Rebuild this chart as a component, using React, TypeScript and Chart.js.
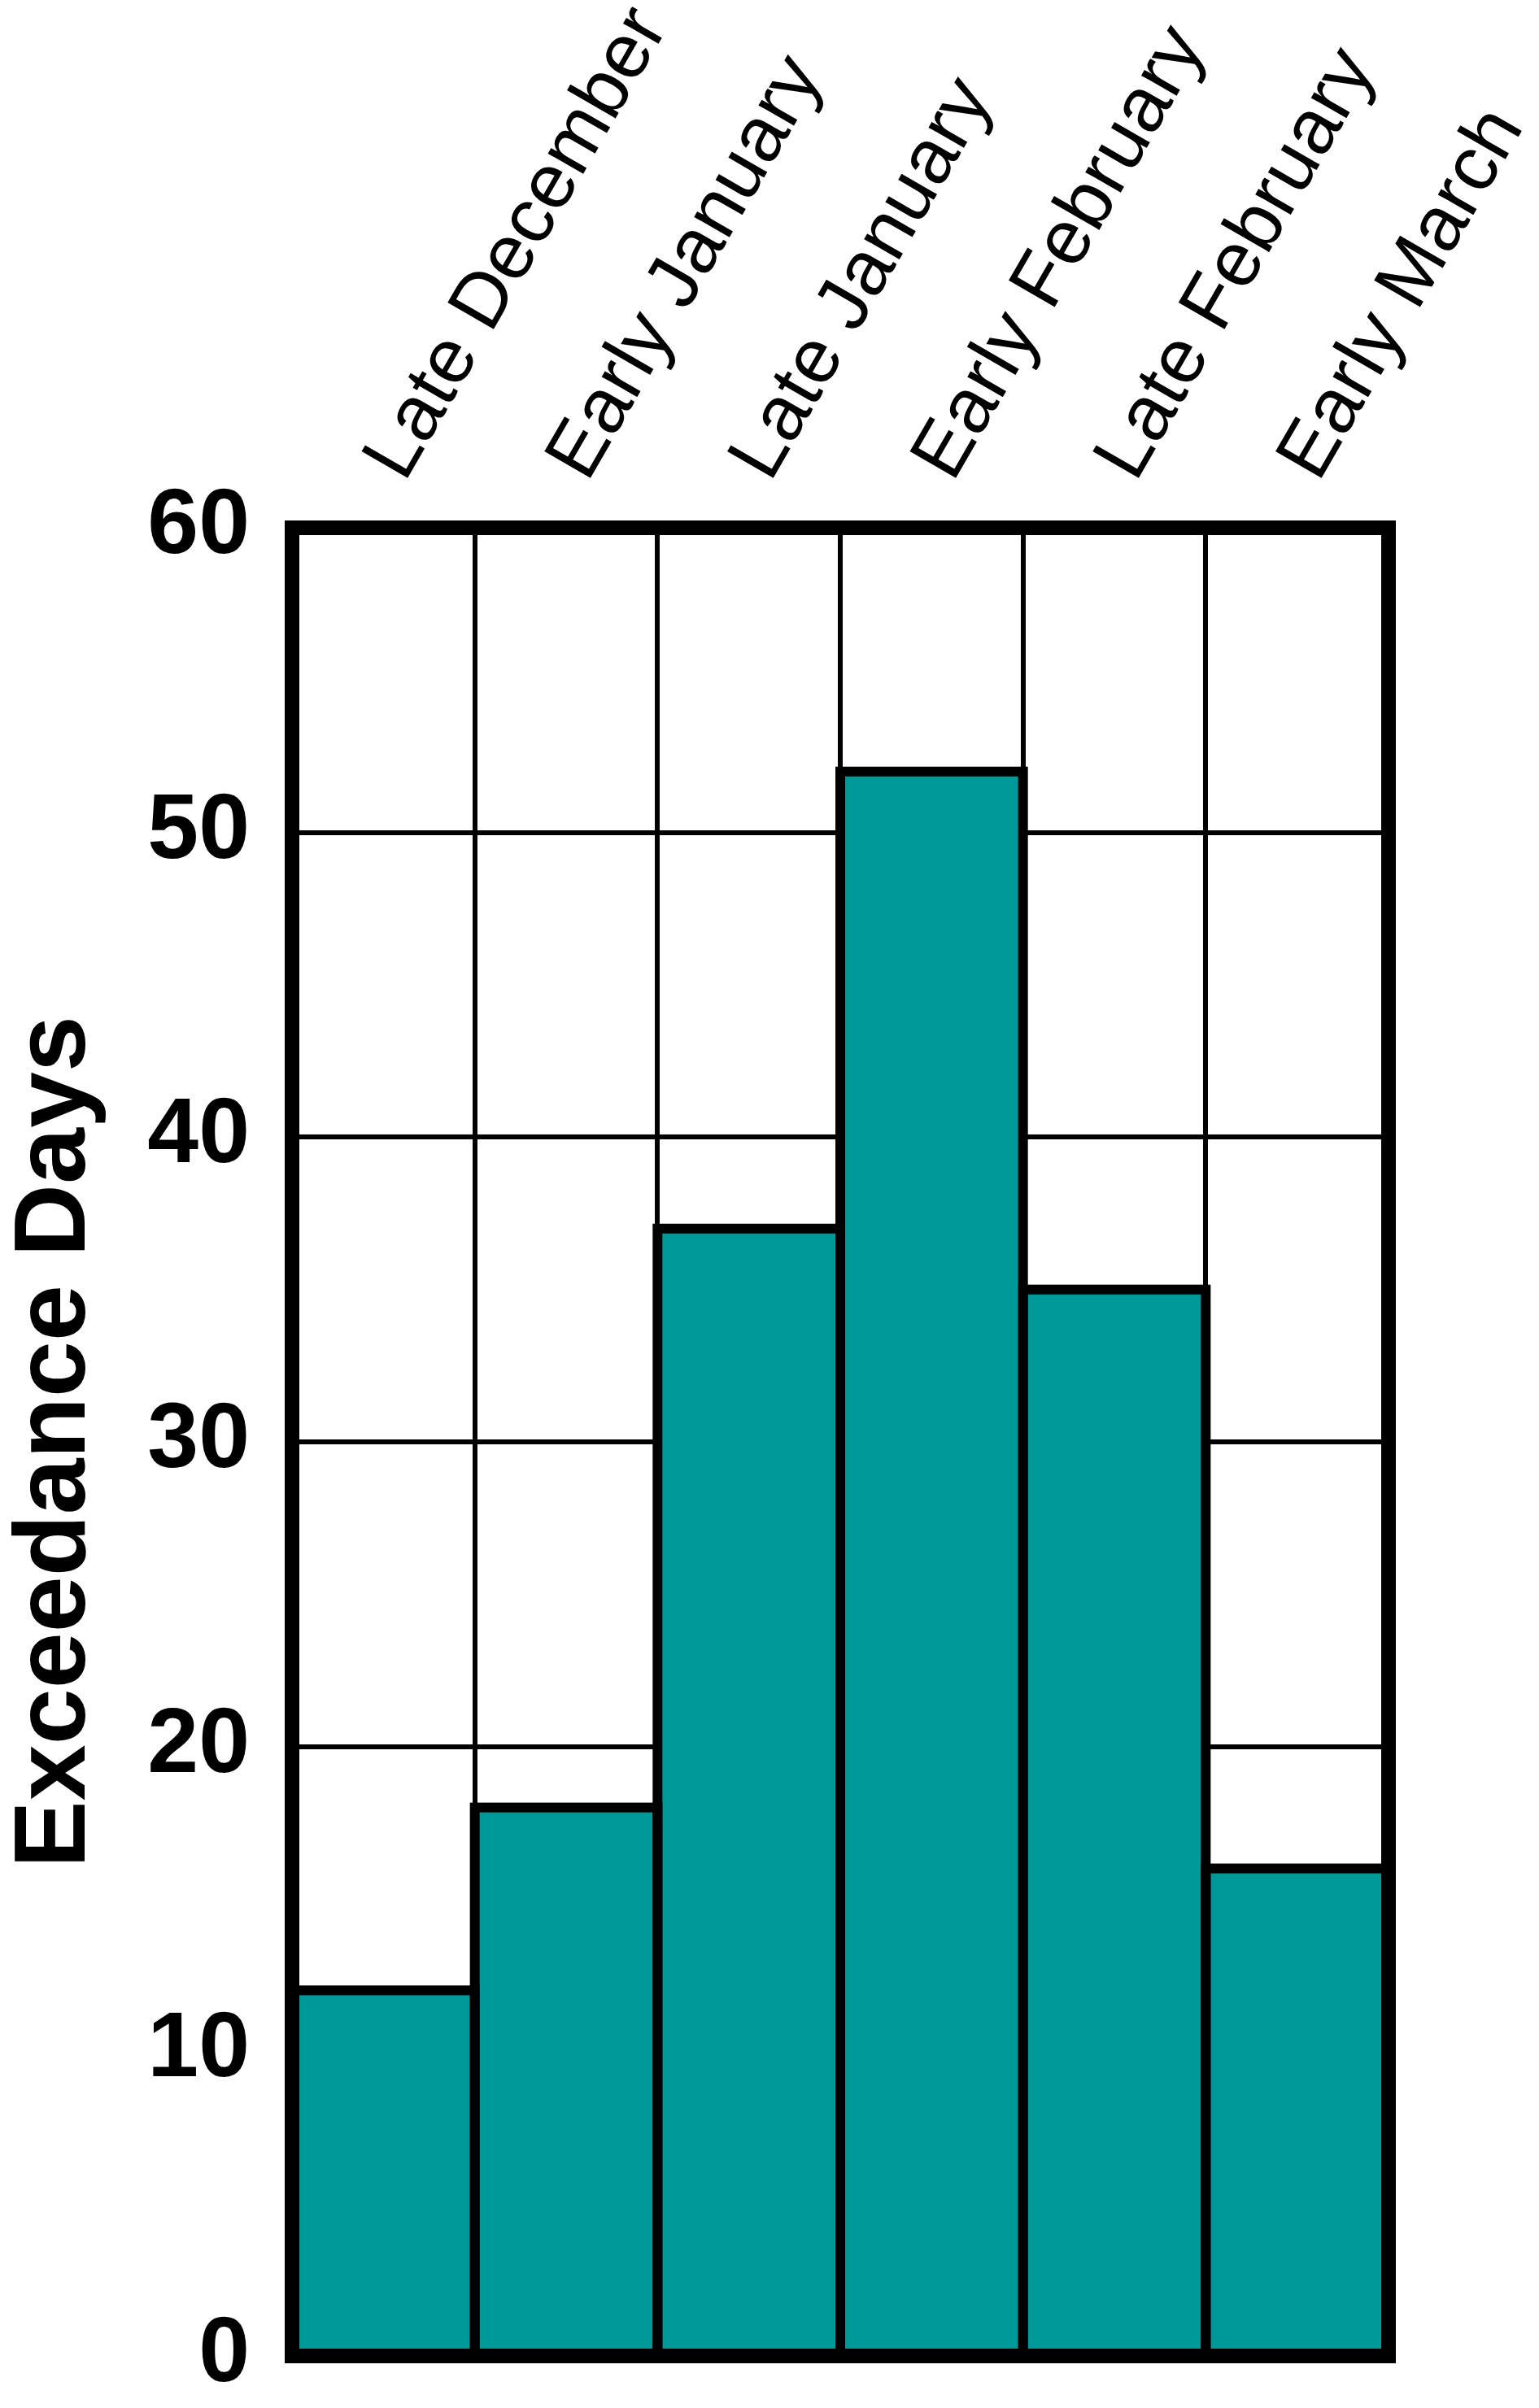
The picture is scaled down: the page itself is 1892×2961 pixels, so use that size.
import React, { useEffect, useRef } from "react";
import { Chart, registerables } from "chart.js";

Chart.register(...registerables);

const categories = [
  "Late December",
  "Early January",
  "Late January",
  "Early February",
  "Late February",
  "Early March",
];
const exceedanceDays = [12, 18, 37, 52, 35, 16];
const yTicks = [0, 10, 20, 30, 40, 50, 60];
const yTitle = "Exceedance Days";

const BAR_COLOR = "#009999";

const framePlugin = {
  id: "frameOutline",
  afterDraw(chart: any) {
    const { ctx, chartArea } = chart;
    const meta = chart.getDatasetMeta(0);
    ctx.save();
    ctx.strokeStyle = "#000";
    ctx.lineJoin = "miter";
    ctx.lineWidth = 12;
    meta.data.forEach((bar: any) => {
      const p = bar.getProps(["x", "y", "base", "width"], true);
      ctx.strokeRect(p.x - p.width / 2, p.y, p.width, p.base - p.y);
    });
    ctx.lineWidth = 18;
    ctx.strokeRect(
      chartArea.left,
      chartArea.top,
      chartArea.right - chartArea.left,
      chartArea.bottom - chartArea.top
    );
    ctx.restore();
  },
};

export default function App() {
  const canvasRef = useRef<HTMLCanvasElement | null>(null);

  useEffect(() => {
    if (!canvasRef.current) return;
    const chart = new Chart(canvasRef.current, {
      type: "bar",
      data: {
        labels: categories,
        datasets: [
          {
            data: exceedanceDays,
            backgroundColor: BAR_COLOR,
            borderWidth: 0,
            barPercentage: 1,
            categoryPercentage: 1,
          },
        ],
      },
      options: {
        animation: false,
        responsive: false,
        devicePixelRatio: 1,
        layout: { padding: { left: 0, right: 185, top: 0, bottom: 64 } },
        plugins: {
          legend: { display: false },
          tooltip: { enabled: false },
        },
        scales: {
          x: {
            position: "top",
            z: 1,
            border: { display: false },
            grid: {
              offset: true,
              color: "#000",
              lineWidth: 6,
              drawTicks: false,
            },
            ticks: {
              autoSkip: false,
              minRotation: 60,
              maxRotation: 60,
              padding: 39,
              labelOffset: 102,
              color: "#000",
              font: { family: "'Liberation Sans', Arial, sans-serif", size: 95, weight: "normal" },
            },
            afterFit: (s: any) => {
              s.height = 649;
              s.paddingLeft = 0;
              s.paddingRight = 0;
            },
          },
          y: {
            position: "left",
            min: 0,
            max: 60,
            z: 1,
            border: { display: false },
            grid: { color: "#000", lineWidth: 6, drawTicks: false },
            afterBuildTicks: (s: any) => {
              s.ticks = yTicks.map((v) => ({ value: v }));
            },
            ticks: {
              padding: 52,
              color: "#000",
              font: { family: "'Liberation Sans', Arial, sans-serif", size: 113, weight: "bold" },
            },
            title: {
              display: true,
              text: yTitle,
              color: "#000",
              padding: { top: 8, bottom: 0 },
              font: {
                family: "'Liberation Sans', Arial, sans-serif",
                size: 124,
                weight: "bold",
                lineHeight: 1,
              },
            },
            afterFit: (s: any) => {
              s.width = 359;
              s.paddingTop = 0;
              s.paddingBottom = 0;
            },
          },
        },
      },
      plugins: [framePlugin],
    } as any);
    return () => chart.destroy();
  }, []);

  return (
    <div style={{ position: "absolute", left: 0, top: 0, width: 1892, height: 2961, background: "#fff" }}>
      <canvas ref={canvasRef} width={1892} height={2961} style={{ display: "block" }} />
    </div>
  );
}
